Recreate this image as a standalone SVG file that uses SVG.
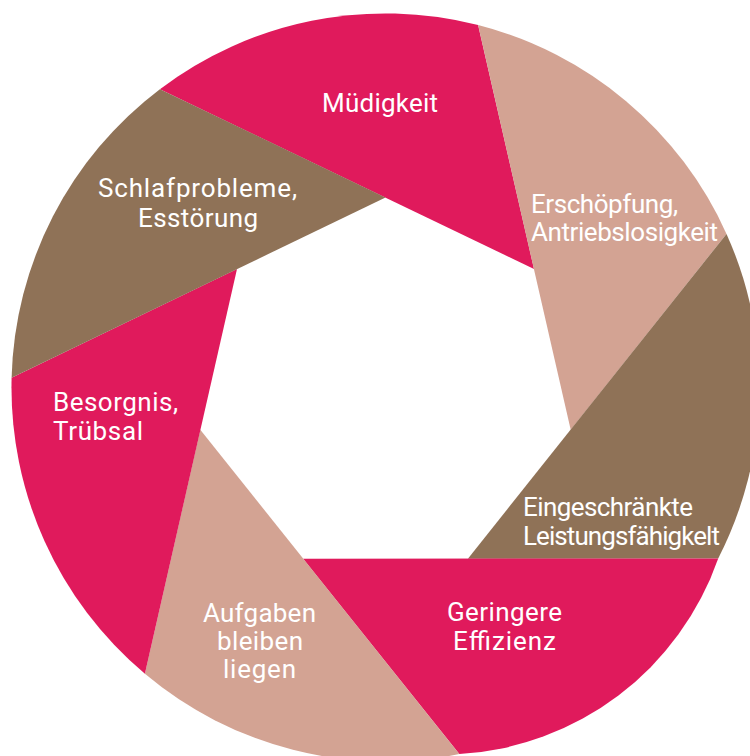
<svg xmlns="http://www.w3.org/2000/svg" width="750" height="756" viewBox="0 0 750 756">
  <style>
    .pink { fill: #e01a5c; }
    .brown { fill: #8f7257; }
    .beige { fill: #d3a393; }
    .lbl { font-family: Roboto, "Liberation Sans", sans-serif; font-size: 26px; fill: #ffffff; }
    .mid { text-anchor: middle; }
  </style>
  <rect width="750" height="756" fill="#ffffff"/>
  <g id="blade-muedigkeit">
    <path class="pink" d="M159.9,89.2 L534,269 L478.1,25.1 A374,374 0 0 0 159.9,89.2 Z"/>
    <text class="lbl" x="322" y="112" textLength="116">Müdigkeit</text>
  </g>
  <g id="blade-erschoepfung">
    <path class="beige" d="M478.1,25.1 L570.7,429.8 L726.5,233.9 A374,374 0 0 0 478.1,25.1 Z"/>
    <text class="lbl" x="531" y="212.5" textLength="147">Erschöpfung,</text>
    <text class="lbl" x="531" y="240.7" textLength="187">Antriebslosigkeit</text>
  </g>
  <g id="blade-eingeschraenkte">
    <path class="brown" d="M726.5,233.9 L467.9,558.7 L718.2,558.4 A374,374 0 0 0 726.5,233.9 Z"/>
    <text class="lbl" x="523" y="515.7" textLength="170">Eingeschränkte</text>
    <text class="lbl" x="523" y="544.7" textLength="197">Leistungsfähigkelt</text>
  </g>
  <g id="blade-geringere">
    <path class="pink" d="M718.2,558.4 L303.1,558.7 L459.3,754.1 A292,292 0 0 0 718.2,558.4 Z"/>
    <text class="lbl mid" x="504.5" y="621" textLength="115">Geringere</text>
    <text class="lbl mid" x="504.5" y="650" textLength="103">Effizienz</text>
  </g>
  <g id="blade-aufgaben">
    <path class="beige" d="M459.3,754.1 L200.3,429.8 L144.9,673.8 A374,374 0 0 0 459.3,754.1 Z"/>
    <text class="lbl mid" x="259.5" y="621.5" textLength="113">Aufgaben</text>
    <text class="lbl mid" x="260" y="650" textLength="86">bleiben</text>
    <text class="lbl mid" x="259.5" y="677.5" textLength="73">liegen</text>
  </g>
  <g id="blade-besorgnis">
    <path class="pink" d="M144.9,673.8 L237,269 L11.6,377.8 A374,374 0 0 0 144.9,673.8 Z"/>
    <text class="lbl" x="53" y="411" textLength="125">Besorgnis,</text>
    <text class="lbl" x="53" y="440" textLength="90">Trübsal</text>
  </g>
  <g id="blade-schlafprobleme">
    <path class="brown" d="M11.6,377.8 L385.5,197.5 L159.9,89.2 A374,374 0 0 0 11.6,377.8 Z"/>
    <text class="lbl mid" x="197.5" y="197" textLength="199">Schlafprobleme,</text>
    <text class="lbl mid" x="198" y="227" textLength="120">Esstörung</text>
  </g>
  <g id="connectors"/>
</svg>
